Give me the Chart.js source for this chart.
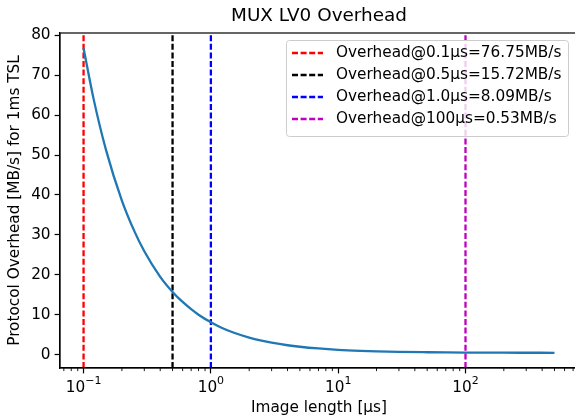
<!DOCTYPE html>
<html>
<head>
<meta charset="utf-8">
<script src="https://cdn.jsdelivr.net/npm/chart.js@4"></script>
<style>
  html, body { margin: 0; padding: 0; overflow: hidden; background: #fff; }
</style>
</head>
<body>
<canvas id="overheadChart" width="580" height="417"></canvas>
<script>
// image length [us] and overhead [MB/s]
const lengths = [0.1, 0.12, 0.15, 0.2, 0.25, 0.3, 0.4, 0.5, 0.6, 0.7, 0.8, 1, 1.2, 1.5, 2, 2.5, 3, 4, 5, 7, 10, 15, 20, 30, 50, 70, 100, 150, 200, 300, 500]
const overhead = [76.75, 64.0, 51.3, 38.6, 31.0, 25.9, 19.5, 15.72, 13.2, 11.4, 10.0, 8.09, 6.8, 5.54, 4.27, 3.51, 3.0, 2.36, 1.98, 1.55, 1.22, 0.97, 0.84, 0.71, 0.61, 0.56, 0.53, 0.51, 0.49, 0.48, 0.47]

const markerLengths = [0.1, 0.5, 1.0, 100]
const markerLabels = [
  'Overhead@0.1µs=76.75MB/s',
  'Overhead@0.5µs=15.72MB/s',
  'Overhead@1.0µs=8.09MB/s',
  'Overhead@100µs=0.53MB/s',
]
const markerColors = ['#ff0000', '#000000', '#0000ff', '#bf00bf']

const xTicks = [0.1, 1, 10, 100]
const xTickExponents = ['−1', '0', '1', '2']
const yTicks = [0, 10, 20, 30, 40, 50, 60, 70, 80]

const xMin = 0.0653, xMax = 765
const yMin = -3.34, yMax = 80.56
const FONT = 'DejaVu Sans'
const FS = 15.3

const curve = {
  label: 'overhead',
  data: lengths.map((x, i) => ({ x: x, y: overhead[i] })),
  borderColor: '#1f77b4',
  borderWidth: 2.3,
  pointRadius: 0,
  cubicInterpolationMode: 'monotone',
  fill: false,
}

const markers = markerLengths.map((x, i) => ({
  label: markerLabels[i],
  data: [{ x: x, y: yMin }, { x: x, y: yMax }],
  borderColor: markerColors[i],
  borderWidth: 2.3,
  borderDash: [6, 2.6],
  pointRadius: 0,
  fill: false,
}))

const extras = {
  id: 'extras',
  afterDraw(chart) {
    const ctx = chart.ctx
    const a = chart.chartArea
    const xs = chart.scales.x

    ctx.save()
    // top and right spines
    ctx.strokeStyle = '#000'
    ctx.lineWidth = 1.2
    ctx.strokeRect(a.left, a.top, a.right - a.left, a.bottom - a.top)

    // minor ticks on log axis
    ctx.lineWidth = 0.9
    ctx.beginPath()
    for (let e = -2; e <= 2; e++) {
      for (let m = 2; m <= 9; m++) {
        const v = m * Math.pow(10, e)
        if (v < xMin || v > xMax) continue
        const px = xs.getPixelForValue(v)
        ctx.moveTo(px, a.bottom)
        ctx.lineTo(px, a.bottom + 3.1)
      }
    }
    ctx.stroke()

    // x tick labels as 10^n with raised exponent
    ctx.fillStyle = '#000'
    ctx.textBaseline = 'alphabetic'
    ctx.textAlign = 'left'
    const baseFont = FS + 'px "' + FONT + '"'
    const expFont = (FS * 0.72) + 'px "' + FONT + '"'
    xTicks.forEach((v, i) => {
      ctx.font = baseFont
      const wb = ctx.measureText('10').width
      ctx.font = expFont
      const we = ctx.measureText(xTickExponents[i]).width
      const x0 = xs.getPixelForValue(v) - (wb + we) / 2
      ctx.font = baseFont
      ctx.fillText('10', x0, a.bottom + 24)
      ctx.font = expFont
      ctx.fillText(xTickExponents[i], x0 + wb, a.bottom + 16)
    })

    // title
    ctx.font = '18.4px "' + FONT + '"'
    ctx.textAlign = 'center'
    ctx.textBaseline = 'middle'
    ctx.fillText('MUX LV0 Overhead', (a.left + a.right) / 2, 16)

    // legend
    const bx = 286, by = 40, bw = 282, bh = 96, r = 3
    ctx.fillStyle = 'rgba(255,255,255,0.8)'
    ctx.strokeStyle = '#cccccc'
    ctx.lineWidth = 1
    ctx.beginPath()
    ctx.roundRect(bx + 0.5, by + 0.5, bw, bh, r)
    ctx.fill()
    ctx.stroke()

    ctx.font = FS + 'px "' + FONT + '"'
    ctx.textAlign = 'left'
    markerLabels.forEach((lbl, i) => {
      const y = 53 + i * 22
      ctx.strokeStyle = markerColors[i]
      ctx.lineWidth = 2.3
      ctx.setLineDash([6, 2.6])
      ctx.beginPath()
      ctx.moveTo(292, y)
      ctx.lineTo(323, y)
      ctx.stroke()
      ctx.setLineDash([])
      ctx.fillStyle = '#000'
      ctx.fillText(lbl, 336, y)
    })
    ctx.restore()
  }
}

const ctx = document.getElementById('overheadChart').getContext('2d')
new Chart(ctx, {
  type: 'line',
  data: { datasets: [curve, ...markers] },
  options: {
    responsive: false,
    animation: false,
    layout: { padding: { top: 33, right: 2, left: 0, bottom: 0 } },
    plugins: {
      legend: { display: false },
      tooltip: { enabled: false },
    },
    scales: {
      x: {
        type: 'logarithmic',
        min: xMin,
        max: xMax,
        afterBuildTicks: (s) => { s.ticks = xTicks.map(v => ({ value: v })) },
        afterFit: (s) => { s.height = 49 },
        grid: { drawOnChartArea: false, tickLength: 5.4, tickColor: '#000', tickWidth: 1.2 },
        border: { color: '#000', width: 1.2 },
        ticks: {
          color: '#000',
          font: { family: FONT, size: FS },
          padding: 3,
          maxRotation: 0,
          autoSkip: false,
          callback: () => '',
        },
        title: {
          display: true,
          text: 'Image length [µs]',
          color: '#000',
          font: { family: FONT, size: FS },
          padding: { top: 0, bottom: 0 },
        },
      },
      y: {
        type: 'linear',
        min: yMin,
        max: yMax,
        afterBuildTicks: (s) => { s.ticks = yTicks.map(v => ({ value: v })) },
        afterFit: (s) => { s.width = 60 },
        grid: { drawOnChartArea: false, tickLength: 5.4, tickColor: '#000', tickWidth: 1.2 },
        border: { color: '#000', width: 1.2 },
        ticks: {
          color: '#000',
          font: { family: FONT, size: FS },
          padding: 4,
          autoSkip: false,
        },
        title: {
          display: true,
          text: 'Protocol Overhead [MB/s] for 1ms TSL',
          color: '#000',
          font: { family: FONT, size: FS },
          padding: { top: 6, bottom: 0 },
        },
      },
    },
  },
  plugins: [extras],
})
</script>
</body>
</html>
